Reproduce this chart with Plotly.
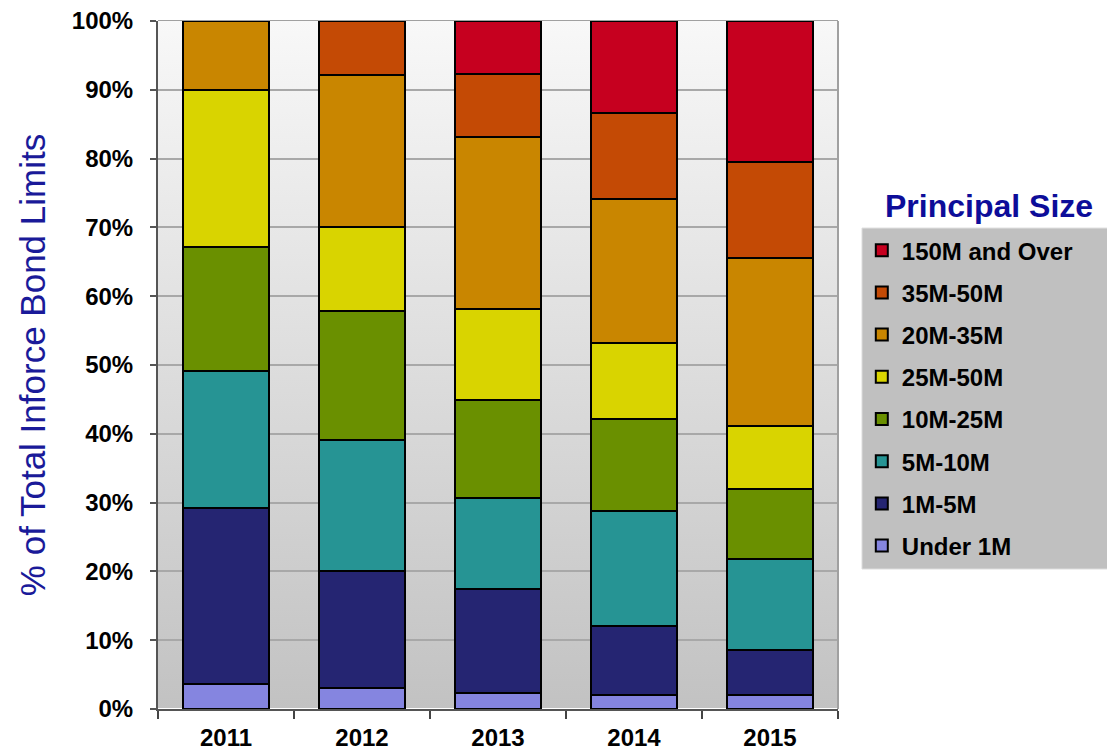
import base64
import plotly.graph_objects as go

years = ["2011", "2012", "2013", "2014", "2015"]

series_names = ["Under 1M", "1M-5M", "5M-10M", "10M-25M", "25M-50M", "20M-35M", "35M-50M", "150M and Over"]

under_1m = [3.7, 3.1, 2.3, 2.0, 2.0]
m1_5 = [25.5, 16.9, 15.2, 10.0, 6.6]
m5_10 = [19.9, 19.1, 13.2, 16.8, 13.2]
m10_25 = [18.1, 18.8, 14.2, 13.3, 10.2]
m25_50 = [22.8, 12.1, 13.2, 11.1, 9.2]
m20_35 = [10.0, 22.2, 25.0, 20.9, 24.4]
m35_50 = [0.0, 7.8, 9.2, 12.6, 13.9]
m150_over = [0.0, 0.0, 7.7, 13.3, 20.5]

series_values = [under_1m, m1_5, m5_10, m10_25, m25_50, m20_35, m35_50, m150_over]
series_colors = ["#8585e0", "#252572", "#269494", "#6a9000", "#d9d400", "#c98600", "#c44a05", "#c6001f"]

y_ticks = [0, 10, 20, 30, 40, 50, 60, 70, 80, 90, 100]
y_ticktext = [f"{v}%" for v in y_ticks]

fig = go.Figure()
for i, (name, vals, col) in enumerate(zip(series_names, series_values, series_colors)):
    fig.add_trace(go.Bar(
        x=years, y=vals, name=name, legendgroup=name, legendrank=1000 - i,
        marker=dict(color=col, line=dict(color="#000000", width=2)),
    ))

svg = ("<svg xmlns='http://www.w3.org/2000/svg' width='10' height='100' viewBox='0 0 10 100' "
       "preserveAspectRatio='none'><defs><linearGradient id='g' x1='0' y1='0' x2='0' y2='1'>"
       "<stop offset='0' stop-color='#f8f8f8'/><stop offset='1' stop-color='#c2c2c2'/>"
       "</linearGradient></defs><rect width='10' height='100' fill='url(#g)'/></svg>")
svg_uri = "data:image/svg+xml;base64," + base64.b64encode(svg.encode()).decode()

fig.add_layout_image(dict(
    source=svg_uri, xref="x domain", yref="y domain", x=0, y=1, sizex=1, sizey=1,
    xanchor="left", yanchor="top", sizing="stretch", layer="below",
))

fig.add_annotation(
    text="<b>Principal Size</b>", xref="paper", yref="paper", x=1.066, y=0.702,
    xanchor="left", yanchor="bottom", showarrow=False,
    font=dict(family="Arial", size=32, color="#0d0d99"),
)

# legend panel background (extends to the right edge like the reference)
fig.add_shape(type="rect", xref="paper", yref="paper", x0=1.0353, x1=1.40, y0=0.2035, y1=0.699,
              fillcolor="#c0c0c0", line=dict(color="#dcdcdc", width=1), layer="below")

fig.update_layout(
    width=1107, height=753,
    margin=dict(l=158, r=269, t=21, b=44),
    paper_bgcolor="#ffffff",
    plot_bgcolor="rgba(0,0,0,0)",
    barmode="stack",
    bargap=0.37,
    showlegend=True,
    legend=dict(
        x=1.035, y=0.699, xanchor="left", yanchor="top",
        bgcolor="rgba(0,0,0,0)", borderwidth=0,
        font=dict(family="Arial", size=24, color="#000000", weight="bold"),
        traceorder="grouped", tracegroupgap=8,
    ),
    xaxis=dict(
        type="category", tickson="boundaries", ticks="outside", ticklen=8,
        tickcolor="#444444", tickwidth=2, ticklabelstandoff=6,
        showline=True, linecolor="#555555", linewidth=2, mirror=False,
        tickfont=dict(family="Arial", size=24, color="#000000", weight="bold"),
        showgrid=False, automargin=False,
    ),
    yaxis=dict(
        range=[0, 100], tickvals=y_ticks, ticktext=y_ticktext,
        ticks="outside", ticklen=6, tickcolor="#555555", tickwidth=2,
        ticklabelstandoff=12,
        showline=True, linecolor="#555555", linewidth=2,
        showgrid=True, gridcolor="#a8a8a8", gridwidth=2,
        tickfont=dict(family="Arial", size=24, color="#000000", weight="bold"),
        title=dict(text="% of Total Inforce Bond Limits",
                   font=dict(family="Arial", size=35, color="#1a1a99"), standoff=16),
        automargin=False,
    ),
)

# right and top plot border
fig.add_shape(type="line", xref="x domain", yref="y domain", x0=1, x1=1, y0=0, y1=1,
              line=dict(color="#a0a0a0", width=2), layer="above")
fig.add_shape(type="line", xref="x domain", yref="y domain", x0=0, x1=1, y0=1, y1=1,
              line=dict(color="#a0a0a0", width=2), layer="below")

fig.write_html("out.html")
